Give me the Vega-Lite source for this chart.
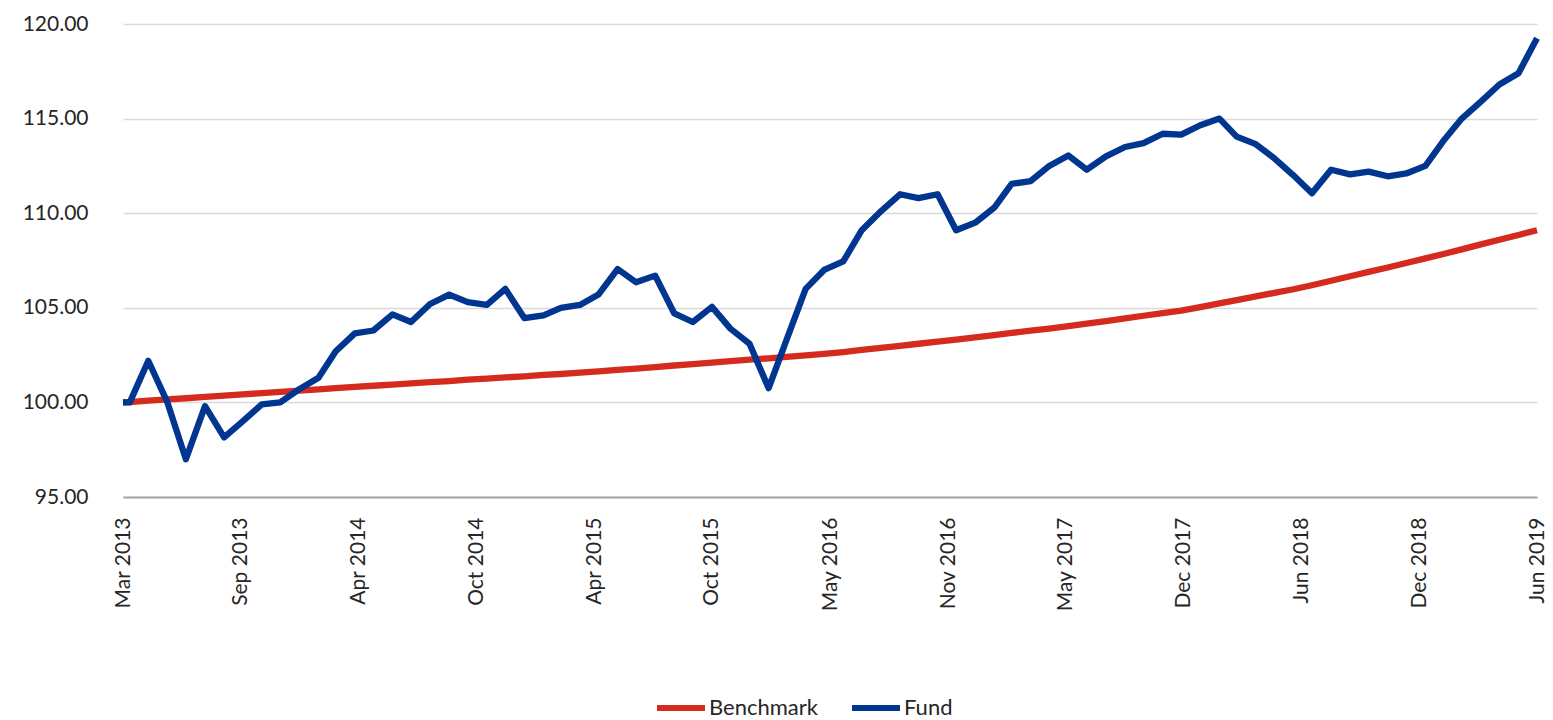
{
  "$schema": "https://vega.github.io/schema/vega-lite/v6.json",
  "width": 1414,
  "height": 473,
  "autosize": {"type": "none"},
  "padding": {"left": 123, "top": 24, "right": 16, "bottom": 223},
  "background": "white",
  "config": {
    "view": {"stroke": null},
    "font": "Lato",
    "axis": {"labelFont": "Lato", "labelColor": "#262626"},
    "legend": {"labelFont": "Lato", "labelColor": "#262626"}
  },
  "data": {
    "values": [
      {"date": "2013-03-20", "Benchmark": 100.0, "Fund": 100.0},
      {"date": "2013-03-31", "Benchmark": 100.02, "Fund": 100.0},
      {"date": "2013-04-30", "Benchmark": 100.09, "Fund": 102.2},
      {"date": "2013-05-31", "Benchmark": 100.16, "Fund": 100.0},
      {"date": "2013-06-30", "Benchmark": 100.22, "Fund": 97.0},
      {"date": "2013-07-31", "Benchmark": 100.29, "Fund": 99.8},
      {"date": "2013-08-31", "Benchmark": 100.36, "Fund": 98.15},
      {"date": "2013-09-30", "Benchmark": 100.42, "Fund": 99.0},
      {"date": "2013-10-31", "Benchmark": 100.49, "Fund": 99.9},
      {"date": "2013-11-30", "Benchmark": 100.56, "Fund": 100.0},
      {"date": "2013-12-31", "Benchmark": 100.62, "Fund": 100.7},
      {"date": "2014-01-31", "Benchmark": 100.69, "Fund": 101.3},
      {"date": "2014-02-28", "Benchmark": 100.75, "Fund": 102.7},
      {"date": "2014-03-31", "Benchmark": 100.82, "Fund": 103.65},
      {"date": "2014-04-30", "Benchmark": 100.88, "Fund": 103.8},
      {"date": "2014-05-31", "Benchmark": 100.94, "Fund": 104.65},
      {"date": "2014-06-30", "Benchmark": 101.01, "Fund": 104.25},
      {"date": "2014-07-31", "Benchmark": 101.07, "Fund": 105.2},
      {"date": "2014-08-31", "Benchmark": 101.13, "Fund": 105.7},
      {"date": "2014-09-30", "Benchmark": 101.2, "Fund": 105.3},
      {"date": "2014-10-31", "Benchmark": 101.26, "Fund": 105.15},
      {"date": "2014-11-30", "Benchmark": 101.32, "Fund": 106.0},
      {"date": "2014-12-31", "Benchmark": 101.38, "Fund": 104.45},
      {"date": "2015-01-31", "Benchmark": 101.45, "Fund": 104.6},
      {"date": "2015-02-28", "Benchmark": 101.5, "Fund": 105.0},
      {"date": "2015-03-31", "Benchmark": 101.57, "Fund": 105.15},
      {"date": "2015-04-30", "Benchmark": 101.64, "Fund": 105.7},
      {"date": "2015-05-31", "Benchmark": 101.72, "Fund": 107.05},
      {"date": "2015-06-30", "Benchmark": 101.79, "Fund": 106.35},
      {"date": "2015-07-31", "Benchmark": 101.87, "Fund": 106.7},
      {"date": "2015-08-31", "Benchmark": 101.95, "Fund": 104.7},
      {"date": "2015-09-30", "Benchmark": 102.02, "Fund": 104.25},
      {"date": "2015-10-31", "Benchmark": 102.1, "Fund": 105.05},
      {"date": "2015-11-30", "Benchmark": 102.18, "Fund": 103.9},
      {"date": "2015-12-31", "Benchmark": 102.26, "Fund": 103.1},
      {"date": "2016-01-31", "Benchmark": 102.33, "Fund": 100.75},
      {"date": "2016-02-29", "Benchmark": 102.41, "Fund": 103.3},
      {"date": "2016-03-31", "Benchmark": 102.48, "Fund": 106.0},
      {"date": "2016-04-30", "Benchmark": 102.56, "Fund": 107.0},
      {"date": "2016-05-31", "Benchmark": 102.66, "Fund": 107.45},
      {"date": "2016-06-30", "Benchmark": 102.77, "Fund": 109.1},
      {"date": "2016-07-31", "Benchmark": 102.88, "Fund": 110.1},
      {"date": "2016-08-31", "Benchmark": 102.99, "Fund": 111.0},
      {"date": "2016-09-30", "Benchmark": 103.1, "Fund": 110.8},
      {"date": "2016-10-31", "Benchmark": 103.21, "Fund": 111.0},
      {"date": "2016-11-30", "Benchmark": 103.32, "Fund": 109.1},
      {"date": "2016-12-31", "Benchmark": 103.44, "Fund": 109.5},
      {"date": "2017-01-31", "Benchmark": 103.56, "Fund": 110.3},
      {"date": "2017-02-28", "Benchmark": 103.67, "Fund": 111.55},
      {"date": "2017-03-31", "Benchmark": 103.79, "Fund": 111.7},
      {"date": "2017-04-30", "Benchmark": 103.9, "Fund": 112.5},
      {"date": "2017-05-31", "Benchmark": 104.03, "Fund": 113.05},
      {"date": "2017-06-30", "Benchmark": 104.16, "Fund": 112.3},
      {"date": "2017-07-31", "Benchmark": 104.3, "Fund": 113.0},
      {"date": "2017-08-31", "Benchmark": 104.44, "Fund": 113.5},
      {"date": "2017-09-30", "Benchmark": 104.58, "Fund": 113.7},
      {"date": "2017-10-31", "Benchmark": 104.72, "Fund": 114.2},
      {"date": "2017-11-30", "Benchmark": 104.85, "Fund": 114.15},
      {"date": "2017-12-31", "Benchmark": 105.04, "Fund": 114.65},
      {"date": "2018-01-31", "Benchmark": 105.23, "Fund": 115.0},
      {"date": "2018-02-28", "Benchmark": 105.41, "Fund": 114.05},
      {"date": "2018-03-31", "Benchmark": 105.6, "Fund": 113.65},
      {"date": "2018-04-30", "Benchmark": 105.79, "Fund": 112.9},
      {"date": "2018-05-31", "Benchmark": 105.98, "Fund": 112.0},
      {"date": "2018-06-30", "Benchmark": 106.19, "Fund": 111.05},
      {"date": "2018-07-31", "Benchmark": 106.43, "Fund": 112.3},
      {"date": "2018-08-31", "Benchmark": 106.67, "Fund": 112.05},
      {"date": "2018-09-30", "Benchmark": 106.9, "Fund": 112.2},
      {"date": "2018-10-31", "Benchmark": 107.13, "Fund": 111.95},
      {"date": "2018-11-30", "Benchmark": 107.37, "Fund": 112.1},
      {"date": "2018-12-31", "Benchmark": 107.61, "Fund": 112.5},
      {"date": "2019-01-31", "Benchmark": 107.86, "Fund": 113.9},
      {"date": "2019-02-28", "Benchmark": 108.09, "Fund": 115.0},
      {"date": "2019-03-31", "Benchmark": 108.35, "Fund": 115.9},
      {"date": "2019-04-30", "Benchmark": 108.6, "Fund": 116.8},
      {"date": "2019-05-31", "Benchmark": 108.85, "Fund": 117.4},
      {"date": "2019-06-30", "Benchmark": 109.1, "Fund": 119.25}
    ]
  },
  "transform": [{"fold": ["Benchmark", "Fund"], "as": ["series", "value"]}],
  "mark": {"type": "line", "strokeWidth": 6.3, "strokeJoin": "round", "strokeCap": "butt"},
  "encoding": {
    "x": {
      "field": "date",
      "type": "temporal",
      "scale": {
        "type": "utc",
        "domain": [
          {"year": 2013, "month": 3, "date": 20, "utc": true},
          {"year": 2019, "month": 6, "date": 30, "utc": true}
        ],
        "nice": false
      },
      "axis": {
        "title": null,
        "labelExpr": "utcFormat(datum.value, '%b %Y')",
        "values": [
          {"year": 2013, "month": 3, "date": 20, "utc": true},
          {"year": 2013, "month": 9, "date": 27, "utc": true},
          {"year": 2014, "month": 4, "date": 6, "utc": true},
          {"year": 2014, "month": 10, "date": 14, "utc": true},
          {"year": 2015, "month": 4, "date": 23, "utc": true},
          {"year": 2015, "month": 10, "date": 31, "utc": true},
          {"year": 2016, "month": 5, "date": 10, "utc": true},
          {"year": 2016, "month": 11, "date": 17, "utc": true},
          {"year": 2017, "month": 5, "date": 27, "utc": true},
          {"year": 2017, "month": 12, "date": 4, "utc": true},
          {"year": 2018, "month": 6, "date": 13, "utc": true},
          {"year": 2018, "month": 12, "date": 21, "utc": true},
          {"year": 2019, "month": 6, "date": 30, "utc": true}
        ],
        "labelAngle": 270,
        "labelAlign": "right",
        "labelBaseline": "middle",
        "labelFontSize": 21,
        "labelPadding": 20,
        "labelOverlap": false,
        "labelFlush": false,
        "ticks": false,
        "grid": false,
        "domain": true,
        "domainColor": "#a6a6a6",
        "domainWidth": 2
      }
    },
    "y": {
      "field": "value",
      "type": "quantitative",
      "scale": {"domain": [95, 120], "nice": false, "zero": false},
      "axis": {
        "title": null,
        "values": [95, 100, 105, 110, 115, 120],
        "format": ".2f",
        "labelFontSize": 21,
        "labelPadding": 35,
        "ticks": false,
        "domain": false,
        "grid": true,
        "gridColor": "#d9d9d9",
        "gridWidth": 1.5
      }
    },
    "color": {
      "field": "series",
      "type": "nominal",
      "scale": {"domain": ["Benchmark", "Fund"], "range": ["#d52b1e", "#00368f"]},
      "legend": {
        "title": null,
        "orient": "none",
        "direction": "horizontal",
        "legendX": 531,
        "legendY": 657,
        "padding": 0,
        "symbolType": "stroke",
        "symbolSize": 2304,
        "symbolStrokeWidth": 6,
        "labelFontSize": 22,
        "labelOffset": 1,
        "columnPadding": 22
      }
    }
  }
}
